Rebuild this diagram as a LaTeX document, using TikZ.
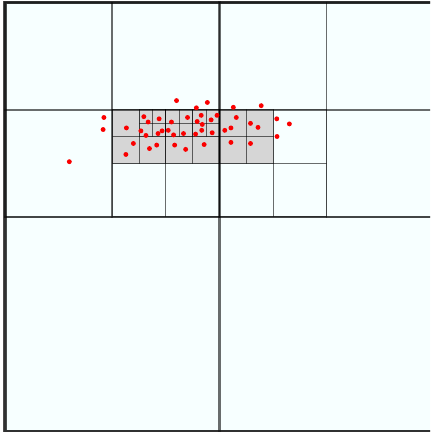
\documentclass[tikz,border=0pt]{standalone}
\definecolor{cellbg}{RGB}{247,255,255}
\definecolor{cellgray}{RGB}{214,214,214}
\definecolor{ptred}{RGB}{250,0,0}
\tikzset{
  cell/.style={draw=black, draw opacity=0.35},
  lvlA/.style={cell, draw opacity=0.7, line width=1.8pt},
  lvlB/.style={cell, line width=1.3pt},
  lvlC/.style={cell, line width=0.9pt},
  lvlD/.style={cell, line width=0.55pt},
  lvlE/.style={cell, line width=0.5pt},
  lvlF/.style={cell, line width=0.4pt},
  pt/.style={fill=ptred}
}
\begin{document}
\begin{tikzpicture}[x=0.5cm,y=-0.5cm]
\useasboundingbox (-0.187,-0.093) rectangle (15.858,16.026);
\clip (-0.187,-0.093) rectangle (15.858,16.026);
% background
\fill[cellbg] (0,0) rectangle (16,16);
\fill[cellgray] (4,4) rectangle (10,6);
% quadtree cells, level by level (x/y/size)
\draw[lvlA] (0,0) rectangle ++(16,16);
\foreach \x/\y in {0/0,8/0,0/8,8/8}
  \draw[lvlB] (\x,\y) rectangle ++(8,8);
\foreach \x/\y in {0/0,4/0,0/4,4/4,8/0,12/0,8/4,12/4}
  \draw[lvlC] (\x,\y) rectangle ++(4,4);
\foreach \x/\y in {4/4,6/4,4/6,6/6,8/4,10/4,8/6,10/6}
  \draw[lvlD] (\x,\y) rectangle ++(2,2);
\foreach \x in {4,...,9}
  \foreach \y in {4,5}
    \draw[lvlE] (\x,\y) rectangle ++(1,1);
\foreach \x in {5,5.5,...,7.5}
  \foreach \y in {4,4.5}
    \draw[lvlF] (\x,\y) rectangle ++(0.5,0.5);
% points
\foreach \u/\v in {6.40/3.66, 7.14/3.93, 7.55/3.73, 8.52/3.91, 9.56/3.85,
  3.69/4.29, 3.66/4.74, 5.18/4.26, 5.34/4.46, 5.75/4.34, 6.21/4.46,
  6.81/4.29, 7.32/4.21, 7.17/4.44, 7.36/4.55, 7.69/4.38, 7.91/4.21,
  8.63/4.29, 9.16/4.51, 9.44/4.66, 10.14/4.34, 10.61/4.53, 10.15/5.00,
  4.53/4.68, 5.07/4.79, 5.26/4.96, 5.71/4.89, 5.86/4.79, 6.09/4.77,
  6.29/4.94, 6.66/4.89, 7.11/4.91, 7.34/4.77, 7.73/4.86, 8.20/4.77,
  8.43/4.68, 4.79/5.26, 4.51/5.67, 5.39/5.45, 5.66/5.32, 6.33/5.32,
  6.74/5.48, 7.43/5.30, 8.43/5.22, 9.16/5.26, 2.40/5.94}
  \fill[pt] (\u,\v) circle (1.3pt);
\end{tikzpicture}
\end{document}
